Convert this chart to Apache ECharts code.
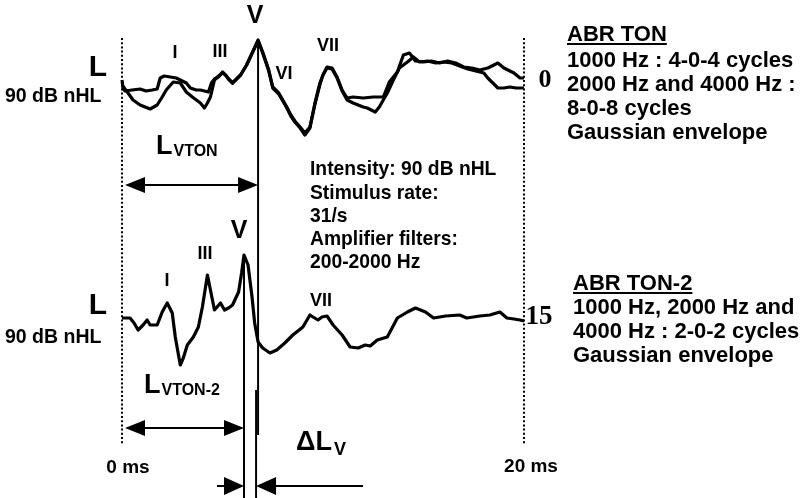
<!DOCTYPE html>
<html><head><meta charset="utf-8">
<script src="https://cdn.jsdelivr.net/npm/echarts@6/dist/echarts.min.js"></script>
<style>html,body{margin:0;padding:0;background:#fff}#c{width:805px;height:498px}</style>
</head><body><div id="c"></div>
<script>
// ---- data (time in ms, amplitude in arbitrary units) ----
const tonA = [[0,5],[0.05,-3],[0.15,-6],[0.5,-5],[0.9,-4],[1.2,-6],[1.5,-5],[1.75,-4],[1.9,7],[2.1,9],[2.4,8],[2.7,7],[3.0,4],[3.2,2],[3.4,-3],[3.7,-5],[3.9,-5],[4.1,-6],[4.3,-7],[4.45,2],[4.6,6],[4.8,8],[5.0,13],[5.15,10],[5.3,6],[5.5,2],[5.7,6],[5.9,10],[6.2,20],[6.5,33],[6.77,45],[7.0,33],[7.3,15],[7.5,-2],[7.8,-8],[8.0,-15],[8.2,-22],[8.4,-30],[8.6,-36],[8.86,-42],[9.1,-48],[9.35,-42],[9.6,-18],[9.85,2],[10.0,10],[10.2,18],[10.45,17],[10.7,8],[10.95,-5],[11.2,-13],[11.5,-12],[12.0,-13],[12.5,-12],[13.0,-12],[13.3,3],[13.7,13],[14.0,30],[14.3,32],[14.6,24],[15.0,23],[15.4,24],[15.8,22],[16.2,24],[16.6,22],[17.0,18],[17.4,17],[17.8,15],[18.2,17],[18.7,22],[19.0,17],[19.5,12],[19.8,7],[20.0,7]];
const tonB = [[0,0],[0.3,-8],[0.55,-15],[0.9,-20],[1.15,-22],[1.4,-24],[1.75,-20],[2.0,-12],[2.2,-5],[2.55,3],[2.9,2],[3.2,-7],[3.5,-12],[3.7,-15],[3.9,-18],[4.1,-23],[4.25,-18],[4.4,-12],[4.6,5],[4.8,9],[5.0,12],[5.15,10],[5.3,6],[5.5,2],[5.7,6],[5.9,10],[6.2,20],[6.5,33],[6.77,44],[7.0,32],[7.3,14],[7.5,-3],[7.8,-9],[8.0,-16],[8.2,-23],[8.4,-31],[8.6,-37],[8.86,-43],[9.1,-50],[9.35,-43],[9.6,-19],[9.85,1],[10.0,10],[10.2,17],[10.45,16],[10.7,7],[10.95,-6],[11.2,-15],[11.5,-18],[12.0,-22],[12.2,-23],[12.6,-27],[12.8,-22],[13.2,-8],[13.5,5],[13.8,17],[14.2,23],[14.5,28],[14.8,23],[15.2,24],[15.6,22],[16.0,23],[16.4,22],[16.8,19],[17.2,16],[17.6,14],[18.0,12],[18.2,7],[18.7,-3],[19.0,-3],[19.3,-2],[19.6,-3],[20.0,-3]];
const ton2 = [[0,2],[0.4,2],[0.6,-3],[0.8,-10],[1.05,-5],[1.25,0],[1.4,-5],[1.75,-5],[2.0,8],[2.25,17],[2.5,7],[2.65,-17],[2.9,-45],[3.05,-38],[3.25,-25],[3.55,-17],[3.8,-7],[4.0,13],[4.25,45],[4.4,30],[4.6,10],[4.9,17],[5.1,10],[5.3,12],[5.5,15],[5.8,28],[5.95,47],[6.07,65],[6.27,55],[6.47,23],[6.6,-3],[6.77,-22],[7.0,-28],[7.36,-33],[7.7,-30],[8.1,-23],[8.5,-15],[9.0,-7],[9.35,5],[9.5,3],[9.75,0],[9.95,3],[10.2,4],[10.5,-5],[10.95,-15],[11.35,-27],[11.75,-28],[12.1,-25],[12.35,-26],[12.7,-20],[13.2,-17],[13.7,2],[14.2,8],[14.6,12],[15.1,8],[15.5,2],[16.1,4],[16.8,5],[17.15,2],[17.8,4],[18.3,5],[18.8,8],[19.15,2],[19.5,1],[19.8,0],[20,-1]];
const vLatencyTon = 6.77;
const vLatencyTon2 = 6.07;
const timeRange = [0, 20];
const timeLabels = ['0 ms', '20 ms'];
const peaksTon = ['I', 'III', 'V', 'VI', 'VII'];
const peaksTon2 = ['I', 'III', 'V', 'VII'];
const infoText = ['Intensity: 90 dB nHL', 'Stimulus rate:', '31/s', 'Amplifier filters:', '200-2000 Hz'];
const tonTitle = 'ABR TON';
const tonText = ['1000 Hz : 4-0-4 cycles', '2000 Hz and 4000 Hz :', '8-0-8 cycles', 'Gaussian envelope'];
const ton2Title = 'ABR TON-2';
const ton2Text = ['1000 Hz, 2000 Hz and', '4000 Hz : 2-0-2 cycles', 'Gaussian envelope'];

// ---- chart ----
const FF = '"Liberation Sans", Arial, sans-serif';
const chart = echarts.init(document.getElementById('c'), null, {renderer: 'canvas'});
const lineS = {color: '#000', width: 3.2, join: 'round'};
chart.setOption({
  animation: false,
  backgroundColor: '#fff',
  grid: [
    {left: 122, right: 281, top: 5, height: 160},
    {left: 122, right: 281, top: 240, height: 160}
  ],
  xAxis: [
    {type: 'value', gridIndex: 0, min: timeRange[0], max: timeRange[1], show: false},
    {type: 'value', gridIndex: 1, min: timeRange[0], max: timeRange[1], show: false}
  ],
  yAxis: [
    {type: 'value', gridIndex: 0, min: -80, max: 80, show: false},
    {type: 'value', gridIndex: 1, min: -80, max: 80, show: false}
  ],
  series: [
    {type: 'line', xAxisIndex: 0, yAxisIndex: 0, data: tonA, showSymbol: false, lineStyle: lineS},
    {type: 'line', xAxisIndex: 0, yAxisIndex: 0, data: tonB, showSymbol: false, lineStyle: lineS},
    {type: 'line', xAxisIndex: 1, yAxisIndex: 1, data: ton2, showSymbol: false, lineStyle: lineS}
  ]
});

const px = ms => chart.convertToPixel({xAxisIndex: 0}, ms);
const mctx = document.createElement('canvas').getContext('2d');
function tw(text, font) { mctx.font = font; return mctx.measureText(text).width; }
function fnt(size, fam) { return 'bold ' + size + 'px ' + (fam || FF); }
function T(text, x, y, size, align, fam) {
  return {type: 'text', x: x, y: y, silent: true,
    style: {text: text, font: fnt(size, fam), fill: '#000',
      textAlign: align || 'left', textVerticalAlign: 'middle', align: align || 'left', verticalAlign: 'middle'}};
}
function L(x1, y1, x2, y2, w, dash) {
  return {type: 'line', silent: true, shape: {x1, y1, x2, y2},
    style: {stroke: '#000', lineWidth: w || 2, lineDash: dash || null}};
}
function head(tipX, y, dir, len, half) {
  return {type: 'polygon', silent: true,
    shape: {points: [[tipX, y], [tipX - dir * len, y - half], [tipX - dir * len, y + half]]},
    style: {fill: '#000'}};
}
function sub(main, subt, x, y, sMain, sSub, dy) {
  const w = tw(main, fnt(sMain));
  return [T(main, x, y, sMain), T(subt, x + w + 1, y + dy, sSub)];
}

const x0 = px(timeRange[0]), x20 = px(timeRange[1]);
const xV1 = px(vLatencyTon), xV2 = px(vLatencyTon2);
const g = [];
g.push(L(x0, 38, x0, 445, 2, [2, 2.2]));
g.push(L(x20, 38, x20, 445, 2, [2, 2.2]));
g.push(L(xV1, 40, xV1, 435, 2));
g.push(L(xV1 - 2, 390, xV1 - 2, 498, 2));
g.push(L(xV2, 255, xV2, 498, 2));
g.push(L(x0 + 12, 185, xV1 - 12, 185, 2));
g.push(head(x0 + 3, 185, -1, 20, 8));
g.push(head(xV1, 185, 1, 20, 8));
g.push(L(x0 + 12, 428, xV2 - 12, 428, 2));
g.push(head(x0 + 3, 428, -1, 20, 8));
g.push(head(xV2, 428, 1, 20, 8));
g.push(L(217, 486, xV2 - 10, 486, 2));
g.push(head(xV2, 486, 1, 20, 9));
g.push(L(xV1 - 2 + 12, 486, 363, 486, 2));
g.push(head(xV1 - 2, 486, -1, 20, 9));

g.push(T('L', 98, 68, 30, 'center'));
g.push(T('90 dB nHL', 5, 97, 19.5));
g.push(T('L', 98, 306, 30, 'center'));
g.push(T('90 dB nHL', 5, 338, 19.5));

g.push(T(peaksTon[0], 175, 53, 18, 'center'));
g.push(T(peaksTon[1], 220, 52, 18, 'center'));
g.push(T(peaksTon[2], 255, 16, 25, 'center'));
g.push(T(peaksTon[3], 284, 74, 18, 'center'));
g.push(T(peaksTon[4], 328, 46, 18, 'center'));
g.push(T(peaksTon2[0], 167, 281, 18, 'center'));
g.push(T(peaksTon2[1], 205, 254, 18, 'center'));
g.push(T(peaksTon2[2], 239, 231, 25, 'center'));
g.push(T(peaksTon2[3], 321, 301, 18, 'center'));

sub('L', 'VTON', 156, 147, 27, 16, 5).forEach(e => g.push(e));
sub('L', 'VTON-2', 144, 386, 27, 16, 5).forEach(e => g.push(e));
g.push(T('\u0394L', 296, 443, 27));
g.push(T('V', 296 + tw('\u0394L', fnt(27)) + 2, 450, 18));

g.push(T(timeLabels[0], x0 + 6, 468, 19, 'center'));
g.push(T(timeLabels[1], x20 + 7, 467, 19, 'center'));

g.push(T('0', 545, 80, 26, 'center', '"Liberation Serif", serif'));
g.push(T('15', 539, 317, 27, 'center', '"Liberation Serif", serif'));

const infoY = [170, 193.5, 216.5, 240, 263];
infoText.forEach((t, i) => g.push(T(t, 310, infoY[i], 19.3)));

g.push(T(tonTitle, 567, 35, 22));
g.push(L(567, 44, 567 + tw(tonTitle, fnt(22)), 44, 2));
const tonY = [60.5, 84.5, 108.5, 133];
tonText.forEach((t, i) => g.push(T(t, 567, tonY[i], 22)));
g.push(T(ton2Title, 573, 284, 22));
g.push(L(573, 293, 573 + tw(ton2Title, fnt(22)), 293, 2));
const ton2Y = [307.5, 332, 356];
ton2Text.forEach((t, i) => g.push(T(t, 573, ton2Y[i], 22)));

chart.setOption({graphic: {elements: g}});
</script>
</body></html>
